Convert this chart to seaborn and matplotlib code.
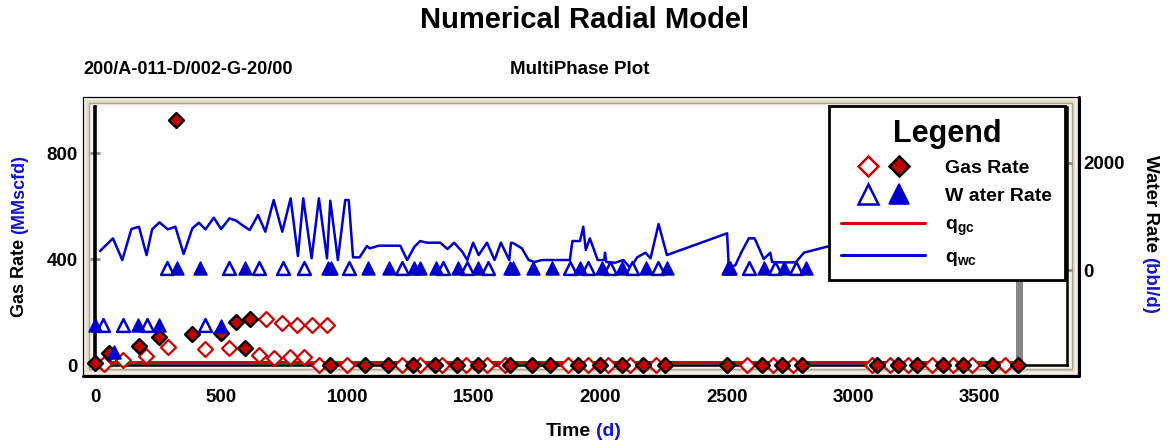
import matplotlib
matplotlib.use("Agg")
import matplotlib.pyplot as plt
import seaborn as sns
from matplotlib.lines import Line2D
from matplotlib.patches import Rectangle
from matplotlib.legend_handler import HandlerTuple

# ---------------- data ----------------
x_ticks = [0, 500, 1000, 1500, 2000, 2500, 3000, 3500]
gas_ticks = [0, 400, 800]
water_ticks = [0, 2000]

# Gas rate, filled diamonds (MMscfd)
gas_filled_days = [0, 55, 173, 254, 320, 382, 499, 558, 592, 613, 928, 1070, 1161,
                   1260, 1346, 1434, 1517, 1643, 1730, 1802, 1912, 1999, 2086, 2170,
                   2257, 2501, 2640, 2719, 2798, 3095, 3178, 3253, 3356, 3435, 3549, 3653]
gas_filled = [9, 46, 73, 107, 926, 117, 122, 161, 63, 173, 0, 0, 0,
              0, 0, 0, 0, 0, 0, 0, 0, 0, 0, 0,
              0, 0, 0, 0, 0, 0, 0, 0, 0, 0, 0, 0]

# Gas rate, open diamonds (MMscfd)
gas_open_days = [35, 110, 202, 287, 434, 529, 647, 709, 771, 826, 885, 676, 740, 799,
                 859, 918, 998, 1216, 1287, 1374, 1466, 1552, 1623, 1873, 1952, 2031,
                 2117, 2221, 2581, 2684, 2762, 3075, 3146, 3217, 3313, 3395, 3471, 3602]
gas_open = [3, 19, 35, 69, 60, 63, 38, 25, 31, 31, 0, 172, 159, 153,
            153, 153, 0, 0, 0, 0, 0, 0, 0, 0, 0, 0,
            0, 0, 0, 0, 0, 0, 0, 0, 0, 0, 0, 0]

# Water rate, filled triangles (bbl/d)
water_filled_days = [0, 74, 170, 255, 500, 323, 414, 592, 920, 933, 1080, 1165, 1264, 1285,
                     1350, 1437, 1516, 1641, 1654, 1734, 1807, 1919, 2005, 2085, 2179,
                     2264, 2504, 2514, 2648, 2727, 2812, 3095, 3178, 3253, 3356, 3435,
                     3549, 3653]
water_filled = [-1030, -1540, -1030, -1030, -1040, 40, 40, 40, 40, 40, 40, 40, 40, 40,
                40, 40, 40, 40, 40, 40, 40, 40, 40, 40, 40,
                40, 40, 40, 40, 40, 40, 40, 40, 40, 40, 40,
                40, 40]

# Water rate, open triangles (bbl/d)
water_open_days = [30, 111, 204, 435, 285, 530, 647, 743, 826, 1006, 1214, 1376, 1470,
                   1555, 1879, 1952, 2039, 2125, 2229, 2588, 2691, 2773, 3075, 3146,
                   3217, 3313, 3395, 3471, 3602]
water_open = [-1030, -1030, -1030, -1030, 40, 40, 40, 40, 40, 40, 40, 40, 40,
              40, 40, 40, 40, 40, 40, 40, 40, 40, 40, 40,
              40, 40, 40, 40, 40]

# Calculated water rate q_wc (bbl/d)
qwc_days = [20, 71, 108, 144, 174, 204, 226, 255, 288, 318, 351, 385, 411, 437, 470,
            499, 532, 559, 582, 612, 645, 674, 707, 741, 774, 803, 824, 857, 886, 918,
            931, 961, 990, 1004, 1021, 1047, 1076, 1087, 1123, 1208, 1235, 1264, 1287,
            1313, 1366, 1395, 1421, 1453, 1473, 1496, 1518, 1551, 1581, 1606, 1639,
            1646, 1656, 1689, 1716, 1739, 1768, 1879, 1889, 1919, 1932, 1942, 1958,
            1989, 2015, 2018, 2023, 2058, 2091, 2119, 2145, 2178, 2198, 2230, 2263,
            2501, 2508, 2534, 2560, 2587, 2610, 2646, 2672, 2679, 2712, 2772, 2805,
            2911, 2970, 3050, 3110, 3210, 3310, 3410, 3511, 3612, 3652]
qwc = [355, 592, 187, 766, 809, 280, 760, 891, 760, 809, 299, 779, 884, 760, 978,
       766, 966, 922, 841, 748, 1028, 716, 1308, 716, 1340, 262, 1340, 218, 1340, 218,
       1296, 187, 1308, 1308, 237, 237, 449, 405, 455, 455, 187, 436, 542,
       511, 511, 392, 511, 343, 187, 511, 280, 511, 187, 511, 187,
       511, 500, 405, 187, 150, 187, 187, 542, 542, 809, 374, 592,
       187, 187, 324, 150, 137, 187, 31, 237, 324, 218, 860, 280,
       686, 31, 93, 355, 592, 592, 206, 324, 150, 143, 143, 324,
       455, 500, 300, 150, 250, 200, 300, 200, 250, 200]

# Calculated gas rate q_gc (MMscfd)
qgc_days = [0, 3655]
qgc = [10, 10]

end_day = [3657]

# ---------------- style ----------------
sns.set_theme(style="white")
plt.rcParams["font.family"] = ["Liberation Sans", "DejaVu Sans"]
plt.rcParams["font.weight"] = "bold"
plt.rcParams["text.color"] = "black"
plt.rcParams["axes.labelcolor"] = "black"
plt.rcParams["mathtext.fontset"] = "custom"
plt.rcParams["mathtext.rm"] = "Liberation Sans:bold"
plt.rcParams["mathtext.it"] = "Liberation Sans:bold"
plt.rcParams["mathtext.bf"] = "Liberation Sans:bold"

RED = "#CC0000"
DARKRED = "#C00000"
BLUE = "#0000C8"
LBLUE = "#1414C8"
TICKGRAY = "#8C8C8C"

W, H = 1170, 443
fig = plt.figure(figsize=(W / 100, H / 100), dpi=100)
fig.patch.set_facecolor("white")


def fx(x):
    return x / W


def fy(y):
    return 1 - y / H


def frect(x0, y0, x1, y1, **kw):
    r = Rectangle((fx(x0), fy(y1)), (x1 - x0) / W, (y1 - y0) / H,
                  transform=fig.transFigure, zorder=-2, **kw)
    fig.patches.append(r)


# beveled frame around plot area
frect(83, 97, 1078, 375, fc="#F3F0E4", ec="black", lw=0.9)
frect(86, 100, 1075, 372, fc="#E1DDCD", ec="none")
frect(89, 103, 1072, 369, fc="#F6F4EC", ec="#A6A294", lw=1.0)
fig.add_artist(Line2D([fx(83), fx(1079), fx(1079)], [fy(376), fy(376), fy(97)],
                      color="black", lw=2.2, transform=fig.transFigure, zorder=-1))

ax = fig.add_axes([fx(95), fy(365), (1067 - 95) / W, (365 - 107) / H])
ax.set_facecolor("white")
ax.set_xlim(0, 3846)
ax.set_ylim(0, 975)

# gray end-of-history bar
for d in end_day:
    ax.axvline(d, color="#858585", lw=5.0, zorder=1.5)

# q_gc line
sns.lineplot(x=qgc_days, y=qgc, ax=ax, color=RED, lw=2.2, sort=False,
             estimator=None, zorder=3, legend=False)

# gas diamonds
sns.scatterplot(x=gas_open_days, y=gas_open, ax=ax, marker="D", s=58,
                color="white", edgecolor=RED, linewidth=1.6, clip_on=False,
                zorder=4, legend=False)
sns.scatterplot(x=gas_filled_days, y=gas_filled, ax=ax, marker="D", s=58,
                color=DARKRED, edgecolor="black", linewidth=1.7, clip_on=False,
                zorder=5, legend=False)

ax.set_xticks(x_ticks)
ax.set_xticklabels([str(v) for v in x_ticks])
ax.set_yticks(gas_ticks)
ax.set_yticklabels([str(v) for v in gas_ticks])
ax.tick_params(axis="x", direction="inout", length=7, width=2, color=TICKGRAY,
               pad=14, labelsize=13.5, labelcolor="black")
ax.tick_params(axis="y", direction="inout", length=7, width=2, color=TICKGRAY,
               pad=9, labelsize=13.5, labelcolor="black")
for lab in ax.get_xticklabels() + ax.get_yticklabels():
    lab.set_fontweight("bold")
ax.spines["left"].set_color("black")
ax.spines["left"].set_linewidth(2.6)
ax.spines["bottom"].set_color("black")
ax.spines["bottom"].set_linewidth(1.8)
ax.spines["top"].set_visible(False)
ax.spines["right"].set_visible(False)
ax.set_xlabel("")
ax.set_ylabel("")
ax.grid(False)

# water axis
ax2 = ax.twinx()
ax2.set_ylim(-1774, 3046)
sns.lineplot(x=qwc_days, y=qwc, ax=ax2, color=BLUE, lw=1.8, sort=False,
             estimator=None, zorder=3, legend=False)
sns.scatterplot(x=water_open_days, y=water_open, ax=ax2, marker="^", s=85,
                color="white", edgecolor=BLUE, linewidth=1.8, clip_on=False,
                zorder=4, legend=False)
sns.scatterplot(x=water_filled_days, y=water_filled, ax=ax2, marker="^", s=85,
                color=BLUE, edgecolor=BLUE, linewidth=1.2, clip_on=False,
                zorder=5, legend=False)
ax2.set_yticks(water_ticks)
ax2.set_yticklabels([str(v) for v in water_ticks])
ax2.tick_params(axis="y", direction="inout", length=7, width=2, color=TICKGRAY,
                pad=8, labelsize=13.5, labelcolor="black")
for lab in ax2.get_yticklabels():
    lab.set_fontweight("bold")
for s in ["left", "top", "bottom"]:
    ax2.spines[s].set_visible(False)
ax2.spines["right"].set_color("black")
ax2.spines["right"].set_linewidth(1.8)
ax2.set_ylabel("")
ax2.grid(False)

# legend
h_gas = (Line2D([], [], ls="none", marker="D", ms=10.5, mfc="white", mec=RED, mew=1.8),
         Line2D([], [], ls="none", marker="D", ms=10.5, mfc=DARKRED, mec="black", mew=1.8))
h_wat = (Line2D([], [], ls="none", marker="^", ms=14, mfc="white", mec=BLUE, mew=1.8),
         Line2D([], [], ls="none", marker="^", ms=14, mfc=BLUE, mec=BLUE, mew=1.2))
h_qgc = Line2D([], [], color=RED, lw=2.2)
h_qwc = Line2D([], [], color=BLUE, lw=2.2)
leg = ax2.legend([h_gas, h_wat, h_qgc, h_qwc],
                 ["Gas Rate", "W ater Rate", r"q$_{gc}$", r"q$_{wc}$"],
                 handler_map={tuple: HandlerTuple(ndivide=None, pad=-1.13)},
                 loc="upper right", bbox_to_anchor=(0.998, 1.004), borderaxespad=0,
                 title="Legend", title_fontproperties={"size": 22, "weight": "bold"},
                 prop={"size": 14, "weight": "bold"}, handlelength=4.3,
                 handletextpad=1.05, labelspacing=0.55, borderpad=0.65,
                 frameon=True, fancybox=False, edgecolor="black", framealpha=1,
                 facecolor="white")
leg.get_frame().set_linewidth(2)
leg.set_zorder(20)

# titles
fig.text(0.5, fy(20), "Numerical Radial Model", ha="center", va="center",
         fontsize=21, fontweight="bold", color="black")
fig.text(fx(83), fy(70), "200/A-011-D/002-G-20/00", ha="left", va="center",
         fontsize=13, fontweight="bold", color="black")
fig.text(fx(580), fy(70), "MultiPhase Plot", ha="center", va="center",
         fontsize=13.5, fontweight="bold", color="black")

# two-colour axis labels
fig.canvas.draw()
rend = fig.canvas.get_renderer()
GAP = 5


def two_color_label(p1, p2, cx, cy, size, orient):
    rot = {"h": 0, "up": 90, "down": 270}[orient]
    t1 = fig.text(0, 0, p1, fontsize=size, fontweight="bold", color="black",
                  rotation=rot)
    t2 = fig.text(0, 0, p2, fontsize=size, fontweight="bold", color=LBLUE,
                  rotation=rot)
    e1 = t1.get_window_extent(rend)
    e2 = t2.get_window_extent(rend)
    dy = H - cy
    if orient == "h":
        L = e1.width + GAP + e2.width
        x0 = cx - L / 2
        t1.set_position((fx(x0), fy(cy)))
        t1.set_ha("left"); t1.set_va("center")
        t2.set_position((fx(x0 + e1.width + GAP), fy(cy)))
        t2.set_ha("left"); t2.set_va("center")
    elif orient == "up":
        L = e1.height + GAP + e2.height
        y0 = dy - L / 2
        t1.set_position((fx(cx), y0 / H))
        t1.set_ha("center"); t1.set_va("bottom")
        t2.set_position((fx(cx), (y0 + e1.height + GAP) / H))
        t2.set_ha("center"); t2.set_va("bottom")
    else:
        L = e1.height + GAP + e2.height
        ytop = dy + L / 2
        t1.set_position((fx(cx), ytop / H))
        t1.set_ha("center"); t1.set_va("top")
        t2.set_position((fx(cx), (ytop - e1.height - GAP) / H))
        t2.set_ha("center"); t2.set_va("top")


two_color_label("Gas Rate", "(MMscfd)", 20, 236, 13, "up")
two_color_label("Water Rate", "(bbl/d)", 1150, 234, 13.5, "down")
two_color_label("Time", "(d)", 583, 432, 14, "h")

fig.savefig("out.png", dpi=100, facecolor="white")
